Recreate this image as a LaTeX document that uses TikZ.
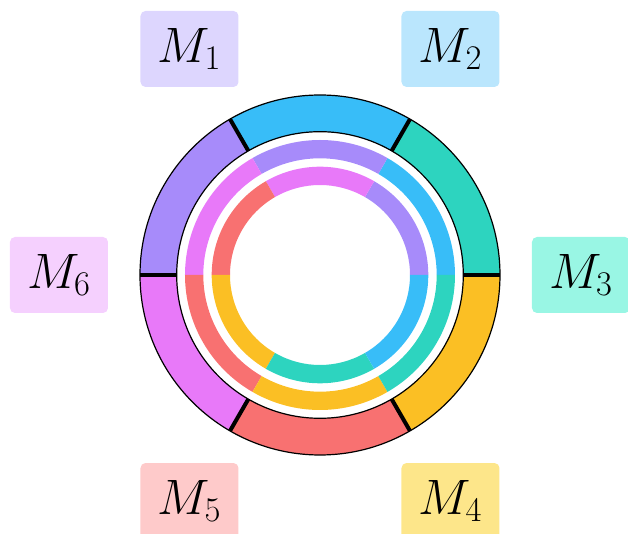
\documentclass[tikz,border=0pt]{standalone}
\usetikzlibrary{calc}
\definecolor{cviolet}{HTML}{A78BFA}
\definecolor{csky}{HTML}{38BDF8}
\definecolor{cteal}{HTML}{2DD4BF}
\definecolor{camber}{HTML}{FBBF24}
\definecolor{cred}{HTML}{F87171}
\definecolor{cfuch}{HTML}{E879F9}
\definecolor{lviolet}{HTML}{DDD6FE}
\definecolor{lsky}{HTML}{BAE6FD}
\definecolor{lteal}{HTML}{99F6E4}
\definecolor{lamber}{HTML}{FDE68A}
\definecolor{lred}{HTML}{FECACA}
\definecolor{lfuch}{HTML}{F5D0FE}
\tikzset{
  lbl/.style={rounded corners=2.5pt, minimum width=49pt, minimum height=38pt, inner sep=0pt, font=\fontsize{24.5}{29}\selectfont},
  divider/.style={line width=2pt, black},
  rim/.style={line width=0.6pt, black}
}
\begin{document}
\begin{tikzpicture}[x=0.5pt,y=0.5pt]
\useasboundingbox (-320,-259) rectangle (308,275);
% outer ring
\foreach \a/\c in {0/cteal,60/csky,120/cviolet,180/cfuch,240/cred,300/camber}{
  \fill[\c] (\a:180) arc[start angle=\a, end angle=\a+60, radius=180]
    -- ({\a+60}:143.3) arc[start angle=\a+60, end angle=\a, radius=143.3] -- cycle;
}
% middle ring
\foreach \a/\c in {0/csky,60/cviolet,120/cfuch,180/cred,240/camber,300/cteal}{
  \fill[\c] (\a:135) arc[start angle=\a, end angle=\a+60, radius=135]
    -- ({\a+60}:116.7) arc[start angle=\a+60, end angle=\a, radius=116.7] -- cycle;
}
% inner ring
\foreach \a/\c in {0/cviolet,60/cfuch,120/cred,180/camber,240/cteal,300/csky}{
  \fill[\c] (\a:108.3) arc[start angle=\a, end angle=\a+60, radius=108.3]
    -- ({\a+60}:90) arc[start angle=\a+60, end angle=\a, radius=90] -- cycle;
}
% outline of outer ring
\draw[rim] (0,0) circle[radius=180];
\draw[rim] (0,0) circle[radius=143.3];
\foreach \a in {0,60,...,300}{
  \draw[divider] (\a:143.3) -- (\a:180);
}
% labels
\node[lbl, fill=lviolet] (m1) at (120:261) {$M_1$};
\node[lbl, fill=lsky]    (m2) at (60:261)  {$M_2$};
\node[lbl, fill=lteal]   (m3) at (0:261)   {$M_3$};
\node[lbl, fill=lamber]  (m4) at (-60:261) {$M_4$};
\node[lbl, fill=lred]    (m5) at (-120:261){$M_5$};
\node[lbl, fill=lfuch]   (m6) at (180:261) {$M_6$};
\end{tikzpicture}
\end{document}
